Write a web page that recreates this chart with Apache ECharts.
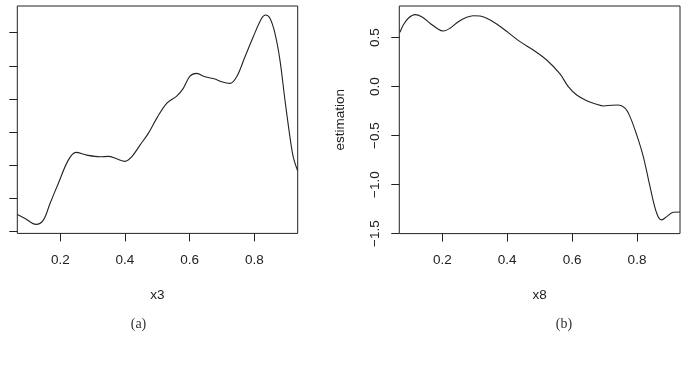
<!DOCTYPE html>
<html>
<head>
<meta charset="utf-8">
<script src="https://cdn.jsdelivr.net/npm/echarts@6/dist/echarts.min.js"></script>
<style>
html,body{margin:0;padding:0;background:#fff;}
#chart{width:683px;height:372px;}
</style>
</head>
<body>
<div id="chart"></div>
<script>
// Panel (a): x3
const x3Grid = [0.0671,0.0909,0.1249,0.1474,0.1682,0.1938,0.2247,0.2485,0.2816,0.3227,0.3484,0.3743,0.4000,0.4207,0.4464,0.4720,0.4980,0.5289,0.5598,0.5802,0.6009,0.6216,0.6473,0.6782,0.6989,0.7246,0.7453,0.7710,0.7966,0.8226,0.8349,0.8482,0.8637,0.8791,0.8946,0.9100,0.9202,0.9338];
const x3Est = [-1.252,-1.312,-1.403,-1.338,-1.085,-0.782,-0.429,-0.312,-0.353,-0.379,-0.373,-0.409,-0.448,-0.379,-0.202,-0.024,0.203,0.430,0.541,0.658,0.844,0.885,0.833,0.798,0.758,0.733,0.833,1.136,1.439,1.718,1.768,1.718,1.491,1.086,0.480,-0.076,-0.379,-0.591];

// Panel (b): x8
const x8Grid = [0.0696,0.0798,0.0952,0.1159,0.1365,0.1621,0.1877,0.2031,0.2237,0.2493,0.2752,0.2955,0.3162,0.3368,0.3676,0.4034,0.4394,0.4804,0.5217,0.5627,0.5883,0.6142,0.6450,0.6758,0.6961,0.7220,0.7424,0.7630,0.7784,0.7991,0.8194,0.8401,0.8607,0.8761,0.8915,0.9119,0.9325];
const x8Est = [0.555,0.630,0.698,0.735,0.714,0.647,0.586,0.568,0.596,0.663,0.708,0.724,0.721,0.698,0.640,0.551,0.459,0.374,0.272,0.130,0.000,-0.085,-0.143,-0.180,-0.197,-0.190,-0.187,-0.220,-0.306,-0.493,-0.714,-1.020,-1.292,-1.360,-1.327,-1.282,-1.279];

// Tick values
const xTicks = [0.2, 0.4, 0.6, 0.8];
const yTicksA = [-1.5, -1.0, -0.5, 0.0, 0.5, 1.0, 1.5];
const yTicksB = [-1.5, -1.0, -0.5, 0.0, 0.5];

const axisNames = {a: 'x3', b: 'x8', y: 'estimation'};
const captions = ['(a)', '(b)'];

const FONT = 'Liberation Sans, Arial, Helvetica, sans-serif';
const INK = '#222';

function fmt(v){
  return Number(v).toFixed(1).replace('-', '\u2212');
}

function xAxisCfg(gridIndex, name, min, max){
  return {
    type: 'value', gridIndex, min, max, position: 'bottom',
    name, nameLocation: 'middle', nameGap: 55,
    nameTextStyle: {fontFamily: FONT, fontSize: 13.5, color: INK},
    axisLine: {show: false, onZero: false},
    splitLine: {show: false},
    axisTick: {show: true, length: 8, lineStyle: {color: INK, width: 1}, customValues: xTicks},
    axisLabel: {show: true, margin: 20, fontFamily: FONT, fontSize: 13.5, color: INK,
      customValues: xTicks, formatter: fmt}
  };
}

const chart = echarts.init(document.getElementById('chart'), null, {renderer: 'canvas'});
chart.setOption({
  backgroundColor: '#fff',
  animation: false,
  grid: [
    {left: 17.3, top: 6, width: 280.4, height: 227.4, show: true, borderColor: INK, borderWidth: 1, backgroundColor: 'transparent'},
    {left: 399.3, top: 6, width: 280.7, height: 227.6, show: true, borderColor: INK, borderWidth: 1, backgroundColor: 'transparent'}
  ],
  xAxis: [
    xAxisCfg(0, axisNames.a, 0.067, 0.934),
    xAxisCfg(1, axisNames.b, 0.0675, 0.9325)
  ],
  yAxis: [
    {
      type: 'value', gridIndex: 0, min: -1.539, max: 1.905, position: 'left',
      axisLine: {show: false, onZero: false}, splitLine: {show: false},
      axisTick: {show: true, length: 8, lineStyle: {color: INK, width: 1}, customValues: yTicksA},
      axisLabel: {show: false, customValues: yTicksA}
    },
    {
      type: 'value', gridIndex: 1, min: -1.5, max: 0.823, position: 'left',
      name: axisNames.y, nameLocation: 'middle', nameGap: 52, nameRotate: 90,
      nameTextStyle: {fontFamily: FONT, fontSize: 13.5, color: INK},
      axisLine: {show: false, onZero: false}, splitLine: {show: false},
      axisTick: {show: true, length: 8, lineStyle: {color: INK, width: 1}, customValues: yTicksB},
      axisLabel: {show: true, rotate: 90, margin: 17, fontFamily: FONT, fontSize: 13.5, color: INK,
        customValues: yTicksB, formatter: fmt}
    }
  ],
  graphic: [
    {type: 'text', x: 138.5, y: 324, style: {text: captions[0], fontFamily: 'Liberation Serif, Times New Roman, serif', fontSize: 14, fill: '#333', textAlign: 'center', textVerticalAlign: 'middle'}},
    {type: 'text', x: 564, y: 324, style: {text: captions[1], fontFamily: 'Liberation Serif, Times New Roman, serif', fontSize: 14, fill: '#333', textAlign: 'center', textVerticalAlign: 'middle'}}
  ],
  series: [
    {type: 'line', xAxisIndex: 0, yAxisIndex: 0, data: x3Grid.map((x,i)=>[x, x3Est[i]]),
      smooth: 0.35, showSymbol: false, lineStyle: {color: INK, width: 1.1}, clip: true},
    {type: 'line', xAxisIndex: 1, yAxisIndex: 1, data: x8Grid.map((x,i)=>[x, x8Est[i]]),
      smooth: 0.35, showSymbol: false, lineStyle: {color: INK, width: 1.1}, clip: true}
  ]
});
</script>
</body>
</html>
